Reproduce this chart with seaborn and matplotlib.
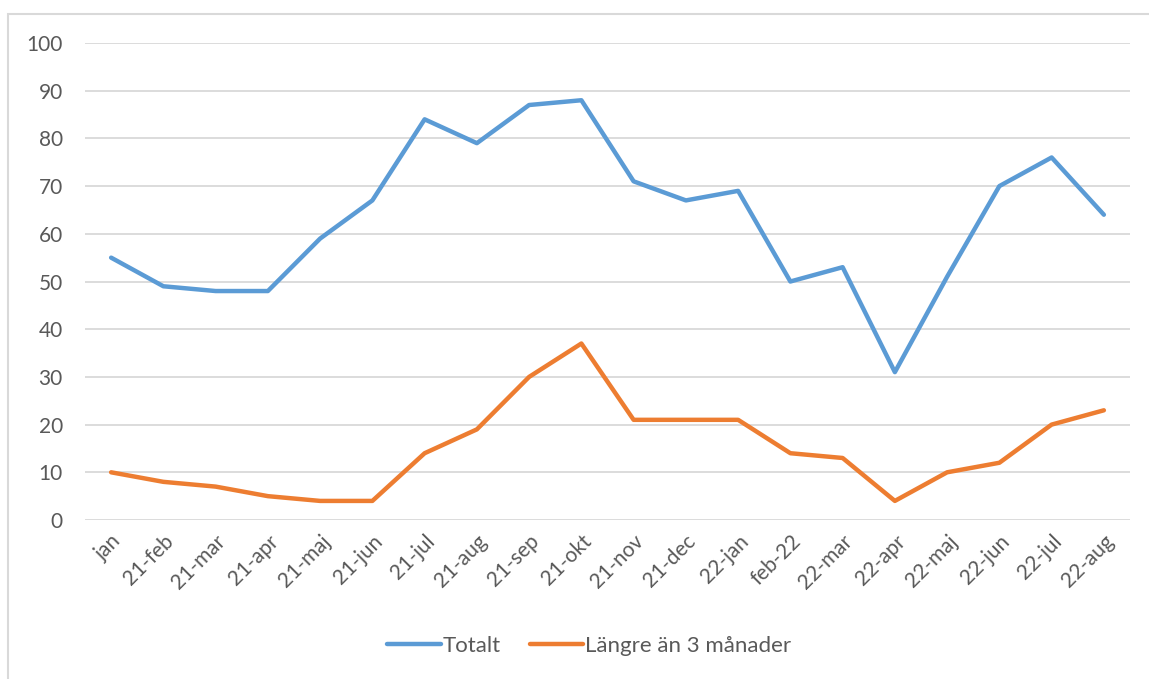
import matplotlib
matplotlib.use("Agg")
import matplotlib.pyplot as plt
import seaborn as sns
import pandas as pd
from matplotlib.patches import Rectangle

months = ["jan", "21-feb", "21-mar", "21-apr", "21-maj", "21-jun", "21-jul", "21-aug",
          "21-sep", "21-okt", "21-nov", "21-dec", "22-jan", "feb-22", "22-mar", "22-apr",
          "22-maj", "22-jun", "22-jul", "22-aug"]
totalt = [55, 49, 48, 48, 59, 67, 84, 79, 87, 88, 71, 67, 69, 50, 53, 31, 51, 70, 76, 64]
langre = [10, 8, 7, 5, 4, 4, 14, 19, 30, 37, 21, 21, 21, 14, 13, 4, 10, 12, 20, 23]
series_names = ["Totalt", "Längre än 3 månader"]
yticks = [0, 10, 20, 30, 40, 50, 60, 70, 80, 90, 100]

df = pd.concat([
    pd.DataFrame({"månad": months, "värde": totalt, "serie": series_names[0]}),
    pd.DataFrame({"månad": months, "värde": langre, "serie": series_names[1]}),
])

sns.set_theme(style="white")
plt.rcParams["font.family"] = ["Lato", "DejaVu Sans"]

fig = plt.figure(figsize=(11.49, 6.79), dpi=100)
ax = fig.add_axes([85/1149, 1-520/679, (1130-85)/1149, (520-43)/679])

sns.lineplot(data=df, x="månad", y="värde", hue="serie", sort=False,
             palette=["#5B9BD5", "#ED7D31"], linewidth=3.2, ax=ax)

ax.set_xlim(-0.5, len(months) - 0.5)
ax.set_ylim(0, 100)
ax.set_yticks(yticks)
ax.yaxis.grid(True, color="#D9D9D9", linewidth=1.3)
ax.xaxis.grid(False)
ax.set_axisbelow(True)
for s in ax.spines.values():
    s.set_visible(False)
ax.set_xlabel("")
ax.set_ylabel("")
ax.tick_params(axis="y", length=0, pad=16, labelsize=15, labelcolor="#595959")
ax.tick_params(axis="x", length=0, pad=8, labelsize=15, labelcolor="#595959")
ax.set_xticks(range(len(months)))
ax.set_xticklabels(months, rotation=45, ha="right", rotation_mode="anchor")

leg = ax.legend(loc="center", bbox_to_anchor=(0.513, 1-646/679), bbox_transform=fig.transFigure,
                ncol=2, frameon=False, fontsize=16, handlelength=2.4, handletextpad=0.1,
                columnspacing=1.3)
for t in leg.get_texts():
    t.set_color("#595959")

fig.add_artist(Rectangle((8/1149, -0.05), 1.2, 1.05 - 14/679, transform=fig.transFigure,
                         fill=False, edgecolor="#D9D9D9", linewidth=1.5))

fig.savefig("out.png", dpi=100, facecolor="white")
